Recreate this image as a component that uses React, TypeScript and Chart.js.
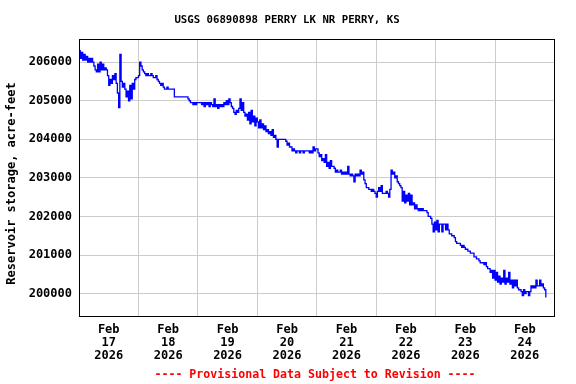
import { useEffect, useRef } from 'react';
import { Chart, registerables } from 'chart.js';

Chart.register(...registerables);

const titleText = 'USGS 06890898 PERRY LK NR PERRY, KS';
const yAxisTitle = 'Reservoir storage, acre-feet';
const footerText = '---- Provisional Data Subject to Revision ----';
const monthLabel = 'Feb';
const yearLabel = '2026';
const dayLabels = ['17', '18', '19', '20', '21', '22', '23', '24'];
const yTickValues = [200000, 201000, 202000, 203000, 204000, 205000, 206000];
const hoursPerReading = 0.5;

// Storage readings (acre-feet), every 30 minutes starting at 00:00 of each day
const feb17 = [
  206300, 206100, 206250, 206050, 206200, 206050, 206150, 206000, 206100, 206000, 206100, 206000,
  205900, 205800, 205750, 205950, 205750, 206000, 205800, 205950, 205800, 205850, 205800, 205650,
  205400, 205550, 205450, 205650, 205550, 205700, 205450, 205200, 204820, 206200, 205500, 205350,
  205450, 205300, 205100, 205250, 205000, 205400, 205050, 205450, 205300, 205550, 205600, 205600,
];
const feb18 = [
  205650, 206000, 205900, 205800, 205750, 205700, 205650, 205700, 205650, 205650, 205700, 205650,
  205600, 205600, 205650, 205550, 205500, 205450, 205400, 205450, 205350, 205300, 205300, 205350,
  205300, 205300, 205300, 205300, 205300, 205100, 205100, 205100, 205100, 205100, 205100, 205100,
  205100, 205100, 205100, 205100, 205050, 205000, 204950, 204950, 204900, 204950, 204900, 204950,
];
const feb19 = [
  204950, 204950, 204950, 204900, 204950, 204850, 204950, 204900, 204950, 204850, 204950, 204900,
  204850, 205050, 204850, 204900, 204800, 204900, 204850, 204900, 204850, 204950, 204900, 205000,
  204900, 205050, 204950, 204850, 204800, 204700, 204650, 204750, 204700, 204800, 205050, 204750,
  204950, 204700, 204600, 204650, 204500, 204700, 204400, 204750, 204450, 204600, 204350, 204550,
];
const feb20 = [
  204450, 204300, 204500, 204300, 204400, 204250, 204350, 204200, 204250, 204150, 204200, 204100,
  204250, 204050, 204100, 204000, 203800, 204000, 204000, 204000, 204000, 204000, 204000, 203950,
  203850, 203900, 203800, 203800, 203700, 203750, 203700, 203650, 203700, 203700, 203650, 203700,
  203700, 203650, 203700, 203700, 203700, 203700, 203650, 203700, 203650, 203800, 203700, 203750,
];
const feb21 = [
  203750, 203650, 203550, 203600, 203450, 203500, 203400, 203600, 203300, 203400, 203250, 203450,
  203300, 203300, 203250, 203150, 203200, 203150, 203150, 203200, 203100, 203150, 203100, 203150,
  203100, 203300, 203100, 203050, 203100, 203050, 202900, 203100, 203050, 203100, 203050, 203200,
  203100, 203150, 202950, 202850, 202750, 202750, 202700, 202700, 202650, 202700, 202650, 202600,
];
const feb22 = [
  202500, 202650, 202750, 202650, 202800, 202600, 202600, 202600, 202650, 202600, 202500, 202700,
  203200, 203100, 203150, 203000, 203050, 202900, 202850, 202800, 202750, 202400, 202650, 202350,
  202550, 202400, 202600, 202300, 202550, 202300, 202350, 202200, 202300, 202200, 202150, 202200,
  202150, 202200, 202150, 202150, 202150, 202100, 202000, 202000, 201950, 201800, 201600, 201850,
];
const feb23 = [
  201650, 201900, 201600, 201800, 201800, 201600, 201800, 201800, 201650, 201800, 201650, 201550,
  201550, 201500, 201500, 201450, 201350, 201300, 201300, 201300, 201250, 201200, 201250, 201200,
  201150, 201150, 201100, 201100, 201050, 201050, 201050, 200950, 200950, 200900, 200900, 200850,
  200800, 200800, 200800, 200750, 200800, 200700, 200650, 200650, 200550, 200600, 200400, 200600,
];
const feb24 = [
  200350, 200550, 200300, 200450, 200250, 200400, 200300, 200600, 200250, 200400, 200300, 200550,
  200250, 200350, 200150, 200350, 200200, 200350, 200150, 200100, 200100, 200050, 199950, 200100,
  200000, 200050, 200050, 199950, 200050, 200200, 200150, 200200, 200150, 200350, 200200, 200200,
  200350, 200200, 200250, 200150, 200100, 199900,
];

const FONT = "'DejaVu Sans Mono', 'Liberation Mono', monospace";

export default function App() {
  const ref = useRef<HTMLCanvasElement>(null);

  useEffect(() => {
    if (!ref.current) return;
    const values = [...feb17, ...feb18, ...feb19, ...feb20, ...feb21, ...feb22, ...feb23, ...feb24];
    const points = values.map((v, i) => ({ x: i * hoursPerReading, y: v }));
    const xTickHours: number[] = [];
    dayLabels.forEach((_, d) => {
      xTickHours.push(d * 24, d * 24 + 12);
    });
    xTickHours.push(dayLabels.length * 24);

    const textPlugin = {
      id: 'usgsText',
      afterDraw(chart: any) {
        const { ctx, chartArea } = chart;
        ctx.save();
        const x0 = Math.floor(chartArea.left) + 0.5;
        const x1 = Math.floor(chartArea.right) + 0.5;
        const y0 = Math.floor(chartArea.top) + 0.5;
        const y1 = Math.floor(chartArea.bottom) + 0.5;
        ctx.strokeStyle = '#000000';
        ctx.lineWidth = 1;
        ctx.strokeRect(x0, y0, x1 - x0, y1 - y0);

        ctx.fillStyle = '#000000';
        ctx.textAlign = 'center';
        ctx.textBaseline = 'middle';
        ctx.font = `bold 10.7px ${FONT}`;
        ctx.fillText(titleText, 287, 20);

        ctx.fillStyle = '#ff0000';
        ctx.font = `bold 11.6px ${FONT}`;
        ctx.fillText(footerText, 315, 375);

        ctx.fillStyle = '#000000';
        ctx.font = `bold 12px ${FONT}`;
        ctx.translate(12, 183.5);
        ctx.rotate(-Math.PI / 2);
        ctx.fillText(yAxisTitle, 0, 0);
        ctx.restore();
      },
    };

    const chart = new Chart(ref.current, {
      type: 'line',
      data: {
        datasets: [
          {
            data: points,
            borderColor: '#0000ff',
            borderWidth: 1.3,
            pointRadius: 0,
            stepped: true,
            fill: false,
          },
        ],
      },
      options: {
        animation: false,
        responsive: false,
        devicePixelRatio: 1,
        layout: { padding: { top: 39, right: 21.5, bottom: 0, left: 0 } },
        plugins: {
          legend: { display: false },
          title: { display: false },
          tooltip: { enabled: false },
        },
        scales: {
          x: {
            type: 'linear',
            min: 0,
            max: dayLabels.length * 24,
            afterBuildTicks: (s: any) => {
              s.ticks = xTickHours.map((v) => ({ value: v }));
            },
            afterFit: (s: any) => {
              s.height = 68;
            },
            grid: {
              drawTicks: false,
              lineWidth: 1,
              color: (c: any) =>
                c.tick && c.tick.value % 24 === 0 ? '#cccccc' : 'rgba(0,0,0,0)',
            },
            border: { display: false },
            ticks: {
              autoSkip: false,
              maxRotation: 0,
              minRotation: 0,
              padding: 8,
              color: '#000000',
              font: { family: FONT, size: 12, weight: 'bold', lineHeight: '12.7px' },
              callback: (value: any) => {
                const v = Number(value);
                if (v % 24 !== 12) return '';
                return [monthLabel, dayLabels[(v - 12) / 24], yearLabel];
              },
            },
          },
          y: {
            type: 'linear',
            min: 199420,
            max: 206600,
            afterBuildTicks: (s: any) => {
              s.ticks = yTickValues.map((v) => ({ value: v }));
            },
            afterFit: (s: any) => {
              s.width = 79;
            },
            grid: { drawTicks: false, lineWidth: 1, color: '#cccccc' },
            border: { display: false },
            ticks: {
              padding: 7,
              color: '#000000',
              font: { family: FONT, size: 12, weight: 'bold' },
              callback: (value: any) => String(value),
            },
          },
        },
      },
      plugins: [textPlugin],
    } as any);

    return () => chart.destroy();
  }, []);

  return (
    <div style={{ position: 'absolute', left: 0, top: 0, width: 576, height: 384, background: '#ffffff' }}>
      <canvas ref={ref} width={576} height={384} style={{ display: 'block' }} />
    </div>
  );
}
